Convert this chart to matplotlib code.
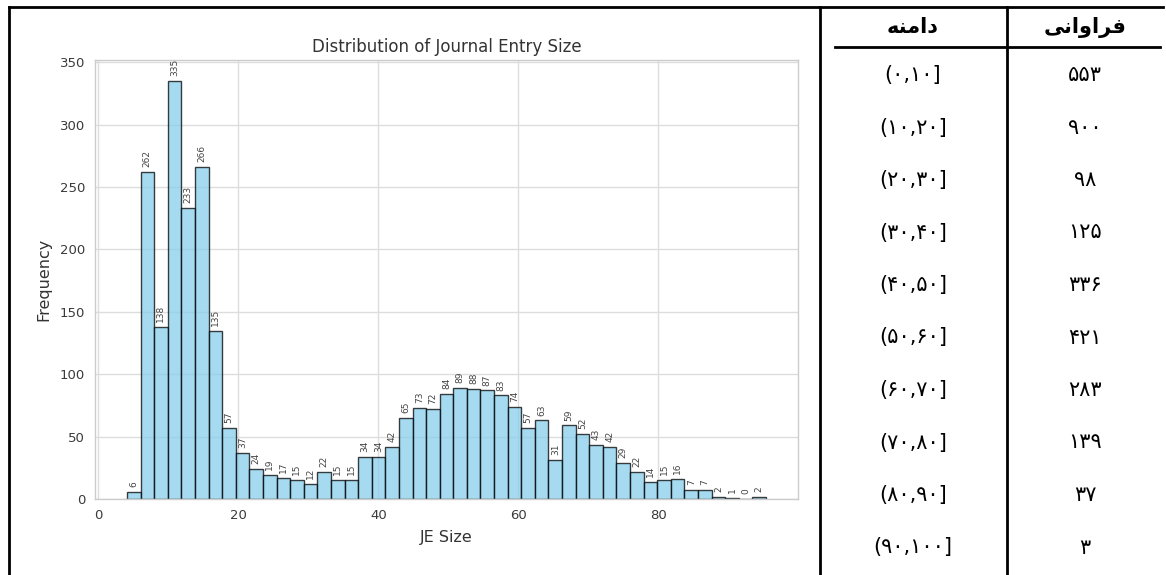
import numpy as np
import matplotlib
matplotlib.use("Agg")
import matplotlib.pyplot as plt
from matplotlib.lines import Line2D

# ---------------- data ----------------
counts = [6, 262, 138, 335, 233, 266, 135, 57, 37, 24, 19, 17, 15, 12, 22, 15, 15,
          34, 34, 42, 65, 73, 72, 84, 89, 88, 87, 83, 74, 57, 63, 31, 59, 52, 43,
          42, 29, 22, 14, 15, 16, 7, 7, 2, 1, 0, 2]
bin_lo = 4.1
bin_hi = 95.4
x_ticks = [0, 20, 40, 60, 80]
y_ticks = [0, 50, 100, 150, 200, 250, 300, 350]

range_lo = [0, 10, 20, 30, 40, 50, 60, 70, 80, 90]
range_hi = [10, 20, 30, 40, 50, 60, 70, 80, 90, 100]
range_freq = [553, 900, 98, 125, 336, 421, 283, 139, 37, 3]

title = "Distribution of Journal Entry Size"
xlabel = "JE Size"
ylabel = "Frequency"
# Persian headers, pre-shaped (presentation forms) in visual order
head_range = "\uFEEA\uFEE8\uFEE3\uFE8D\uFEA9"          # دامنه
head_freq = "\uFEF0\uFEE7\uFE8D\uFEED\uFE8D\uFEAE\uFED3"  # فراوانی

fa = str.maketrans("0123456789", "\u06F0\u06F1\u06F2\u06F3\u06F4\u06F5\u06F6\u06F7\u06F8\u06F9")

# ---------------- figure ----------------
W, H = 1166, 575
fig = plt.figure(figsize=(W / 100, H / 100), dpi=100)
fig.patch.set_facecolor("white")

def fx(px):
    return px / W

def fy(py):
    return 1 - py / H

ax = fig.add_axes([fx(95), fy(499), fx(798) - fx(95), fy(60) - fy(499)])
ax.set_facecolor("white")

edges = np.linspace(bin_lo, bin_hi, len(counts) + 1)
bars = ax.bar(edges[:-1], counts, width=np.diff(edges), align="edge",
              color="skyblue", edgecolor="black", alpha=0.75, linewidth=1.0, zorder=2)
ax.bar_label(bars, labels=[str(c) for c in counts], rotation=90, padding=3.5,
             fontsize=6.5, color="#444444")

ax.set_xticks(x_ticks)
ax.set_yticks(y_ticks)
ax.grid(True, color="#dddddd", linewidth=1.0, zorder=0)
ax.set_axisbelow(True)
for s in ax.spines.values():
    s.set_color("#cccccc")
    s.set_linewidth(1.0)
ax.tick_params(length=0, labelsize=9.5, labelcolor="#3a3a3a", pad=7)
ax.set_title(title, fontsize=12, color="#333333", pad=6)
ax.set_xlabel(xlabel, fontsize=11.5, color="#333333", labelpad=6)
ax.set_ylabel(ylabel, fontsize=11.5, color="#333333", labelpad=6)

# ---------------- table borders ----------------
lw = 2.0
def hline(x0, x1, y):
    fig.add_artist(Line2D([fx(x0), fx(x1)], [fy(y), fy(y)], color="black", lw=lw,
                          transform=fig.transFigure))

def vline(x, y0, y1):
    fig.add_artist(Line2D([fx(x), fx(x)], [fy(y0), fy(y1)], color="black", lw=lw,
                          transform=fig.transFigure))

hline(9, 1163, 7)
vline(9, 7, 576)
vline(820, 7, 576)
vline(1007, 7, 576)
hline(835, 1160, 47)

# ---------------- table text ----------------
col_range_x = 913
col_freq_x = 1085
fig.text(fx(col_range_x), fy(27), head_range, ha="center", va="center",
         fontsize=15, fontweight="bold", family=["DejaVu Sans"])
fig.text(fx(col_freq_x), fy(27), head_freq, ha="center", va="center",
         fontsize=15, fontweight="bold", family=["DejaVu Sans"])

for i, (lo, hi, fr) in enumerate(zip(range_lo, range_hi, range_freq)):
    y = 75 + 52.5 * i
    label = ("(" + str(lo) + "," + str(hi) + "]").translate(fa)
    fig.text(fx(col_range_x), fy(y), label, ha="center", va="center",
             fontsize=15, family=["DejaVu Sans"])
    fig.text(fx(col_freq_x), fy(y), str(fr).translate(fa), ha="center", va="center",
             fontsize=15, family=["DejaVu Sans"])

fig.savefig("out.png", dpi=100)
